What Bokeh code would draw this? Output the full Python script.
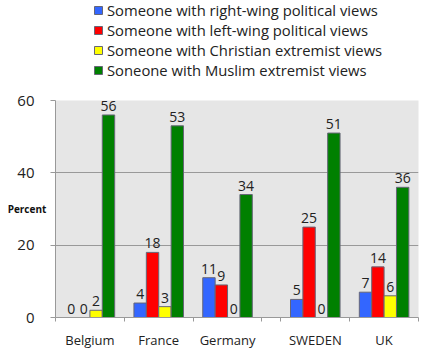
from bokeh.plotting import figure
from bokeh.layouts import column
from bokeh.models import (ColumnDataSource, Range1d, FixedTicker, Legend, LegendItem)
from bokeh.transform import dodge
from bokeh.core.properties import value
from bokeh.embed import file_html
from bokeh.resources import INLINE

countries = ["Belgium", "France", "Germany", "SWEDEN", "UK"]
right_wing = [0, 4, 11, 5, 7]
left_wing = [0, 18, 9, 25, 14]
christian = [2, 3, 0, 0, 6]
muslim = [56, 53, 34, 51, 36]

series_names = ["Someone with right-wing political views",
                "Someone with left-wing political views",
                "Someone with Christian extremist views",
                "Soneone with Muslim extremist views"]
series_values = [right_wing, left_wing, christian, muslim]
series_colors = ["#3366ff", "#ff0000", "#ffff00", "#008000"]
y_ticks = [0, 20, 40, 60]

FONT = "Open Sans"
GAP = 0.275          # visual gap between Germany and SWEDEN panels
BAR_W = 0.18
OFFSETS = [-0.27, -0.09, 0.09, 0.27]
BAR_LINE = "#666677"

centers = [i + 0.5 + (GAP if i >= 3 else 0) for i in range(len(countries))]
bounds = [0, 1, 2, 3, 3 + GAP, 4 + GAP, 5 + GAP]

data = dict(x=centers, country=countries)
for k, vals in enumerate(series_values):
    data[f"s{k}"] = vals
    data[f"t{k}"] = [str(v) for v in vals]
src = ColumnDataSource(data)

# ---------------- legend strip ----------------
lg = figure(width=429, height=90, output_backend="svg", toolbar_location=None,
            x_range=Range1d(0, 1), y_range=Range1d(0, 1),
            x_axis_location=None, y_axis_location=None)
lg.min_border = 0
lg.min_border_left = 0
lg.min_border_right = 0
lg.min_border_top = 0
lg.min_border_bottom = 0
lg.outline_line_color = None
lg.grid.grid_line_color = None
lg.background_fill_color = "white"
lg_items = []
for k in range(4):
    # placeholder renderer (outside the visible range) that only supplies the legend swatch
    r = lg.vbar(x=[10], top=[0], width=0.1, fill_color=series_colors[k],
                line_color=BAR_LINE, line_width=1)
    lg_items.append(LegendItem(label=series_names[k], renderers=[r], index=0))
legend = Legend(items=lg_items, location=(38, 10), orientation="vertical",
                glyph_width=10, glyph_height=10, label_height=20, spacing=0,
                padding=0, margin=0, label_standoff=4,
                label_text_font=FONT, label_text_font_size="14.8px",
                label_text_color="#222222",
                border_line_color=None, background_fill_alpha=0)
lg.add_layout(legend, "center")

# ---------------- chart ----------------
p = figure(width=429, height=261, output_backend="svg", toolbar_location=None,
           x_range=Range1d(0, 5 + GAP), y_range=Range1d(0, 60))
p.min_border_left = 55
p.min_border_right = 11
p.min_border_bottom = 34
p.min_border_top = 10
p.background_fill_color = "#e6e6e6"
p.border_fill_color = "white"
p.outline_line_color = None

for k in range(4):
    p.vbar(x=dodge("x", OFFSETS[k], range=p.x_range), top=f"s{k}", width=BAR_W,
           source=src, fill_color=series_colors[k], line_color=BAR_LINE,
           line_width=1)
    p.text(x=dodge("x", OFFSETS[k], range=p.x_range), y=f"s{k}", text=f"t{k}",
           source=src, text_align="center", text_baseline="bottom", y_offset=-4,
           text_font=value(FONT), text_font_size="14px", text_color="#222222")

p.xaxis.ticker = FixedTicker(ticks=centers, minor_ticks=bounds)
p.xaxis.major_label_overrides = {c: n for c, n in zip(centers, countries)}
p.xaxis.major_tick_out = 0
p.xaxis.major_tick_in = 0
p.xaxis.minor_tick_out = 4
p.xaxis.minor_tick_in = 0
p.xaxis.minor_tick_line_color = "#999999"
p.xaxis.axis_line_color = "#999999"
p.xaxis.major_label_text_font = FONT
p.xaxis.major_label_text_font_size = "13px"
p.xaxis.major_label_text_color = "#222222"
p.xaxis.major_label_standoff = 9

p.yaxis.ticker = FixedTicker(ticks=y_ticks)
p.yaxis.minor_tick_line_color = None
p.yaxis.major_tick_out = 5
p.yaxis.major_tick_in = 0
p.yaxis.major_tick_line_color = "#999999"
p.yaxis.axis_line_color = "#999999"
p.yaxis.major_label_text_font = FONT
p.yaxis.major_label_text_font_size = "15px"
p.yaxis.major_label_text_color = "#222222"
p.yaxis.major_label_standoff = 16
p.yaxis.axis_label = "Percent"
p.yaxis.axis_label_orientation = "horizontal"
p.yaxis.axis_label_standoff = -32
p.yaxis.axis_label_text_font = FONT
p.yaxis.axis_label_text_font_size = "10px"
p.yaxis.axis_label_text_font_style = "bold"
p.yaxis.axis_label_text_color = "#111111"

p.xgrid.grid_line_color = None
p.ygrid.grid_line_color = "#999999"
p.ygrid.grid_line_width = 1

layout = column(lg, p, spacing=0)
open("out.html", "w").write(file_html(layout, INLINE))
